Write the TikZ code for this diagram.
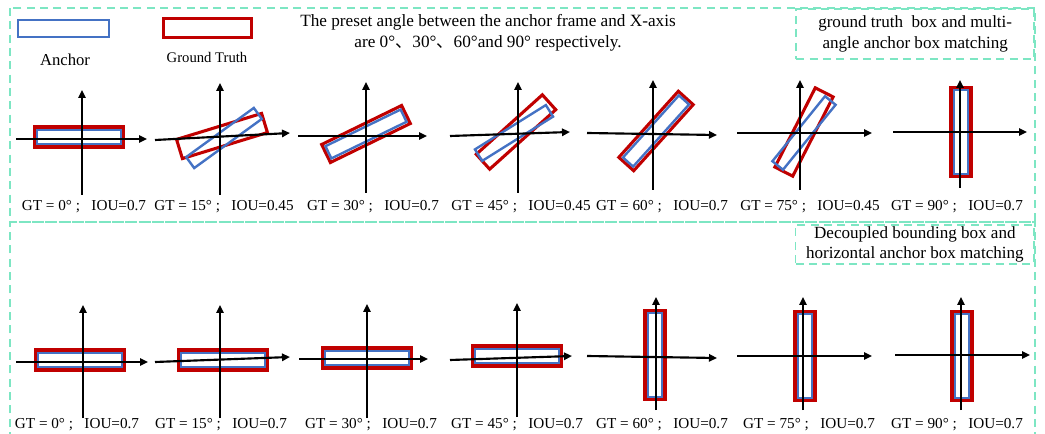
\documentclass[tikz,border=0pt]{standalone}
\usepackage{fontspec}
\setmainfont{Liberation Serif}
\newfontfamily\cjk{Noto Sans CJK SC}
\usetikzlibrary{arrows.meta,positioning}
\definecolor{gtred}{HTML}{C00000}
\definecolor{anchorblue}{HTML}{4472C4}
\definecolor{mint}{HTML}{7DE6C3}

\begin{document}
\begin{tikzpicture}[x=0.75pt,y=-0.75pt,
  font=\fontsize{11.4}{13}\selectfont,
  gt/.style={draw=gtred,line width=2.3pt,minimum width=66.7pt,minimum height=15pt,inner sep=0pt},
  anc/.style={draw=anchorblue,line width=1.8pt,minimum width=62.7pt,minimum height=10.2pt,inner sep=0pt},
  axis/.style={-{Triangle[length=6pt,width=5.5pt]},line width=1.6pt},
  panel/.style={draw=mint,dash pattern=on 6pt off 4pt,line width=1.2pt},
  lab/.style={panel,align=center,inner sep=0pt,font=\fontsize{12.8}{15.5}\selectfont},
  gtcap/.style={inner sep=0pt}]
\useasboundingbox (0,0) rectangle (1045,434);
% panels
\draw[panel] (10,8) rectangle (1035,222);
\draw[panel] (10,440) -- (10,222) -- (1035,222) -- (1035,440);
\node[lab,minimum width=178.5pt,minimum height=37.5pt,anchor=north east] (toplab) at (1035,8)
  {ground truth\ \ box and multi-\\angle anchor box matching};
\node[lab,minimum width=179pt,minimum height=29.25pt,anchor=north east] (botlab) at (1035,224)
  {Decoupled bounding box and\\horizontal anchor box matching};
% legend and title
\node[anc,minimum width=68pt,minimum height=12.5pt] (legA) at (63.5,28.5) {};
\node[gt,minimum width=66pt,minimum height=14.5pt] (legG) at (207.5,28) {};
\node[font=\fontsize{12.5}{14}\selectfont] (legAt) at (65,60) {Anchor};
\node[font=\fontsize{11}{13}\selectfont] (legGt) at (207,57) {Ground Truth};
\node[align=center,font=\fontsize{12.9}{15.5}\selectfont] (title) at (488,33)
  {The preset angle between the anchor frame and X-axis\\are 0°{\cjk 、}30°{\cjk 、}60°and 90° respectively.};

% top row: multi-angle anchors
\node[gt] (g1) at (79,137) {};
\node[anc] (a1) at (79,137) {};
\node[gt,rotate=17] (g2) at (222,136) {};
\node[anc,rotate=36] (a2) at (224,138) {};
\node[gt,rotate=26] (g3) at (366,134) {};
\node[anc,rotate=26] (a3) at (366,134) {};
\node[gt,rotate=42] (g4) at (516,132) {};
\node[anc,rotate=32] (a4) at (514,133) {};
\node[gt,rotate=48] (g5) at (656,131) {};
\node[anc,rotate=48] (a5) at (656,131) {};
\node[gt,rotate=63] (g6) at (804,132) {};
\node[anc,rotate=51] (a6) at (804,133) {};
\node[gt,rotate=90] (g7) at (961,132) {};
\node[anc,rotate=90] (a7) at (961,132) {};
\draw[axis] (16,139) -- (147,139); \draw[axis] (82,195) -- (82,90);
\draw[axis] (155,140) -- (290,133); \draw[axis] (220,195) -- (220,83);
\draw[axis] (298,136) -- (427,136); \draw[axis] (366,193) -- (366,82);
\draw[axis] (450,136) -- (570,132); \draw[axis] (518,193) -- (518,82);
\draw[axis] (587,133) -- (717,135); \draw[axis] (653,190) -- (653,80);
\draw[axis] (737,133) -- (872,133); \draw[axis] (800,190) -- (800,80);
\draw[axis] (893,132) -- (1027,132); \draw[axis] (960,188) -- (960,80);
\node[gtcap] (t1) at (84,207) {GT = 0°\ ;\ \ \ IOU=0.7};
\node[gtcap] (t2) at (224,207) {GT = 15°\ ;\ \ \ IOU=0.45};
\node[gtcap] (t3) at (373,207) {GT = 30°\ ;\ \ \ IOU=0.7};
\node[gtcap] (t4) at (521,207) {GT = 45°\ ;\ \ \ IOU=0.45};
\node[gtcap] (t5) at (662,207) {GT = 60°\ ;\ \ \ IOU=0.7};
\node[gtcap] (t6) at (810,207) {GT = 75°\ ;\ \ \ IOU=0.45};
\node[gtcap] (t7) at (957,207) {GT = 90°\ ;\ \ \ IOU=0.7};

% bottom row: horizontal anchors
\node[gt] (h1) at (80,360) {};
\node[anc] (b1) at (80,360) {};
\node[gt] (h2) at (223,360) {};
\node[anc] (b2) at (223,360) {};
\node[gt] (h3) at (367,358) {};
\node[anc] (b3) at (367,358) {};
\node[gt] (h4) at (517,356) {};
\node[anc] (b4) at (517,356) {};
\node[gt,rotate=90] (h5) at (655,355) {};
\node[anc,rotate=90] (b5) at (655,355) {};
\node[gt,rotate=90] (h6) at (805,356) {};
\node[anc,rotate=90] (b6) at (805,356) {};
\node[gt,rotate=90] (h7) at (962,356) {};
\node[anc,rotate=90] (b7) at (962,356) {};
\draw[axis] (16,362) -- (148,362); \draw[axis] (83,418) -- (83,305);
\draw[axis] (155,362) -- (290,357); \draw[axis] (220,418) -- (220,305);
\draw[axis] (299,359) -- (428,359); \draw[axis] (367,418) -- (367,304);
\draw[axis] (450,360) -- (572,356); \draw[axis] (517,417) -- (517,303);
\draw[axis] (587,356) -- (717,358); \draw[axis] (656,410) -- (656,297);
\draw[axis] (737,356) -- (872,356); \draw[axis] (803,410) -- (803,297);
\draw[axis] (895,355) -- (1030,355); \draw[axis] (961,410) -- (961,297);
\node[gtcap] (s1) at (77,425) {GT = 0°\ ;\ \ \ IOU=0.7};
\node[gtcap] (s2) at (221,425) {GT = 15°\ ;\ \ \ IOU=0.7};
\node[gtcap] (s3) at (371,425) {GT = 30°\ ;\ \ \ IOU=0.7};
\node[gtcap] (s4) at (517,425) {GT = 45°\ ;\ \ \ IOU=0.7};
\node[gtcap] (s5) at (662,425) {GT = 60°\ ;\ \ \ IOU=0.7};
\node[gtcap] (s6) at (809,425) {GT = 75°\ ;\ \ \ IOU=0.7};
\node[gtcap] (s7) at (957,425) {GT = 90°\ ;\ \ \ IOU=0.7};
\end{tikzpicture}
\end{document}
